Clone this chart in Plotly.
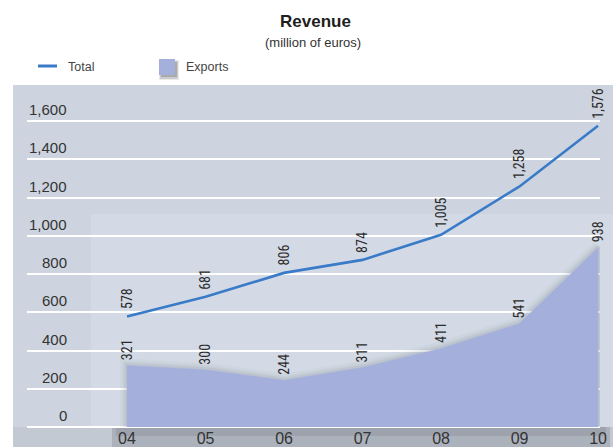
import plotly.graph_objects as go

# ---- data ----
years = ["04", "05", "06", "07", "08", "09", "10"]
total = [578, 681, 806, 874, 1005, 1258, 1576]
exports = [321, 300, 244, 311, 411, 541, 938]
y_tick_vals = [0, 200, 400, 600, 800, 1000, 1200, 1400, 1600]
y_tick_text = ["0", "200", "400", "600", "800", "1,000", "1,200", "1,400", "1,600"]
chart_title = "Revenue"
chart_subtitle = "(million of euros)"
legend_total = "Total"
legend_exports = "Exports"

# ---- style ----
W, H = 613, 447
ML, MR, MT, MB = 27, 13, 88, 20
PLOT_W = W - ML - MR
PLOT_H = H - MT - MB

LINE_COLOR = "#3a7bc8"
AREA_COLOR = "#a4b0db"
PANEL = "#cdd4df"
PANEL_LIGHT = "#d3dae5"
TEXT = "#2b2b2b"
FONT = "Liberation Sans, Arial, sans-serif"
NARROW = "Liberation Sans Narrow, Arial Narrow, Roboto Condensed, sans-serif"


def px(xp):
    """pixel x -> paper x"""
    return (xp - ML) / PLOT_W


def py(yp):
    """pixel y -> paper y"""
    return (H - MB - yp) / PLOT_H


fig = go.Figure()

# category positions on the x axis
xpos = list(range(len(years)))

# soft shadow around the exports area
outline_x = [xpos[0]] + xpos + [xpos[-1]]
outline_y = [0] + exports + [0]
for w, a in [(14, 0.035), (9, 0.05), (5, 0.07)]:
    fig.add_trace(go.Scatter(
        x=outline_x, y=outline_y, mode="lines", fill="toself",
        fillcolor="rgba(70,75,90,0.0)",
        line=dict(color=f"rgba(70,75,90,{a})", width=w),
        hoverinfo="skip", showlegend=False,
    ))

# exports area
fig.add_trace(go.Scatter(
    x=outline_x, y=outline_y, mode="lines", fill="toself",
    fillcolor=AREA_COLOR, line=dict(color=AREA_COLOR, width=0.5),
    name=legend_exports, showlegend=False,
))

# total line
fig.add_trace(go.Scatter(
    x=xpos, y=total, mode="lines",
    line=dict(color=LINE_COLOR, width=2.6),
    name=legend_total, showlegend=False,
))

annotations = []

# rotated value labels
for series, gap in [(total, 5), (exports, 3)]:
    for i, v in zip(xpos, series):
        annotations.append(dict(
            x=i, y=v, xref="x", yref="y", text=f"{v:,}",
            textangle=-90, showarrow=False, xanchor="center", yanchor="bottom",
            yshift=gap, font=dict(family=NARROW, size=14, color=TEXT),
        ))

# y tick labels, sitting just above their grid lines
for v, t in zip(y_tick_vals, y_tick_text):
    annotations.append(dict(
        x=px(69), y=v, xref="paper", yref="y", text=t, showarrow=False,
        xanchor="right", yanchor="bottom", yshift=1,
        font=dict(family=FONT, size=15, color="#333333"),
    ))

# titles
annotations.append(dict(
    x=px(315), y=py(21.5), xref="paper", yref="paper", text=f"<b>{chart_title}</b>",
    showarrow=False, xanchor="center", yanchor="middle",
    font=dict(family=FONT, size=17, color="#1e1e1e"),
))
annotations.append(dict(
    x=px(313), y=py(42), xref="paper", yref="paper", text=chart_subtitle,
    showarrow=False, xanchor="center", yanchor="middle",
    font=dict(family=FONT, size=13, color="#333333"),
))

# legend texts
annotations.append(dict(
    x=px(66), y=py(67), xref="paper", yref="paper", text=legend_total,
    showarrow=False, xanchor="left", yanchor="middle",
    font=dict(family=FONT, size=12.5, color="#444444"),
))
annotations.append(dict(
    x=px(184), y=py(67), xref="paper", yref="paper", text=legend_exports,
    showarrow=False, xanchor="left", yanchor="middle",
    font=dict(family=FONT, size=12.5, color="#444444"),
))


def rect(x0, y0, x1, y1, color, layer="below"):
    return dict(type="rect", xref="paper", yref="paper",
                x0=px(x0), x1=px(x1), y0=py(y1), y1=py(y0),
                fillcolor=color, line=dict(width=0), layer=layer)


shapes = [
    rect(13, 85, 613, 447, PANEL),
    rect(91, 214, 613, 427, PANEL_LIGHT),
    rect(13, 427, 613, 447, "#c3c9d3"),
    rect(112, 427, 610, 447, "rgba(120,125,136,0.30)"),
    rect(116, 427, 606, 436, "rgba(110,115,126,0.25)"),
    # legend keys
    dict(type="line", xref="paper", yref="paper", x0=px(38), x1=px(57),
         y0=py(66), y1=py(66), line=dict(color=LINE_COLOR, width=3), layer="above"),
    rect(159, 60, 179, 80, "rgba(50,50,55,0.10)", "above"),
    rect(160, 61, 178, 79, "rgba(50,50,55,0.16)", "above"),
    rect(161, 62, 177, 77, "rgba(50,50,55,0.22)", "above"),
    rect(159, 59, 175, 75, AREA_COLOR, "above"),
]

fig.update_layout(
    width=W, height=H, autosize=False,
    margin=dict(l=ML, r=MR, t=MT, b=MB, pad=0, autoexpand=False),
    paper_bgcolor="white", plot_bgcolor="rgba(0,0,0,0)",
    showlegend=False,
    annotations=annotations, shapes=shapes,
    xaxis=dict(
        range=[-1.274, 6.025], tickvals=xpos, ticktext=years,
        showgrid=False, zeroline=False, automargin=False,
        showline=False, ticks="", tickfont=dict(family=FONT, size=16, color="#333333"),
        fixedrange=True,
    ),
    yaxis=dict(
        range=[0, 1773], tickvals=y_tick_vals, showticklabels=False,
        showgrid=True, gridcolor="white", gridwidth=1.6,
        zeroline=True, zerolinecolor="white", zerolinewidth=1.6,
        showline=False, ticks="", fixedrange=True, automargin=False,
    ),
)

fig.write_html("out.html")
